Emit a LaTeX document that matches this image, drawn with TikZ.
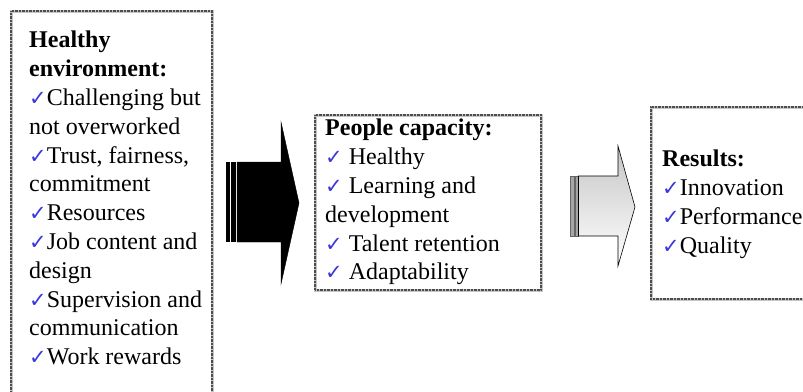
\documentclass[tikz,border=0pt]{standalone}
\usepackage{fontspec}
\setmainfont{Liberation Serif}
\newfontfamily\symfont{DejaVu Sans}
\usepackage{tikz}
\usetikzlibrary{calc}
\definecolor{chkblue}{rgb}{0.22,0.22,0.85}
\newcommand{\chk}{{\color{chkblue}\symfont\bfseries\fontsize{21}{21}\selectfont ✓}}
\tikzset{
	frame/.style={draw=gray!45, line width=2.6pt, inner sep=0pt, anchor=north west,
		postaction={draw=black!70, line width=1.8pt, dash pattern=on 0.7pt off 0.7pt}},
	boxtext/.style={anchor=north west, align=left, inner sep=0pt, font=\fontsize{24}{28.8}\selectfont}
}

\begin{document}
\begin{tikzpicture}[x=1pt, y=-1pt]
			%%%%% START %%%%%
			\useasboundingbox (0,0) rectangle (803,391);
			\clip (0,0) rectangle (803,391);
			
			% boxes
			\node[frame, minimum width=201pt, minimum height=400pt] (env) at (10,10) {};
			\node[frame, minimum width=226pt, minimum height=175pt] (people) at (314,114) {};
			\node[frame, minimum width=170pt, minimum height=192pt] (results) at (650,106) {};
			
			% texts
			\node[boxtext] (envtext) at (29,31) {\textbf{Healthy}\\ \textbf{environment:}\\
				\chk Challenging but\\ not overworked\\ \chk Trust, fairness,\\ commitment\\
				\chk Resources\\ \chk Job content and\\ design\\ \chk Supervision and\\
				communication\\ \chk Work rewards};
			\node[boxtext] (peopletext) at (325,119) {\textbf{People capacity:}\\ \chk{} Healthy\\
				\chk{} Learning and\\ development\\ \chk{} Talent retention\\ \chk{} Adaptability};
			\node[boxtext] (resultstext) at (662,150) {\textbf{Results:}\\ \chk Innovation\\
				\chk Performance\\ \chk Quality};
			
			% black arrow
			\fill[black] (226, 162) rectangle (229.5, 242);
			\fill[black] (231, 162) rectangle (236, 242);
			\draw[fill=black] (237, 162) -- (281, 162) -- (281, 122) -- (299, 203) -- (281, 284) -- (281, 242) -- (237, 242) -- cycle;
			
			% gray arrow
			\draw[fill=gray!70, draw=black!60] (570, 176) rectangle (574, 236);
			\draw[fill=gray!70, draw=black!60] (575.5, 176) rectangle (578, 236);
			\draw[top color=gray!45, bottom color=white, draw=black, line width=0.6pt] (578.5, 176) -- (618, 176) -- (618, 146) -- (635, 207) -- (618, 266) -- (618, 236) -- (578.5, 236) -- cycle;
			%%%%% END %%%%%
		\end{tikzpicture}
\end{document}
